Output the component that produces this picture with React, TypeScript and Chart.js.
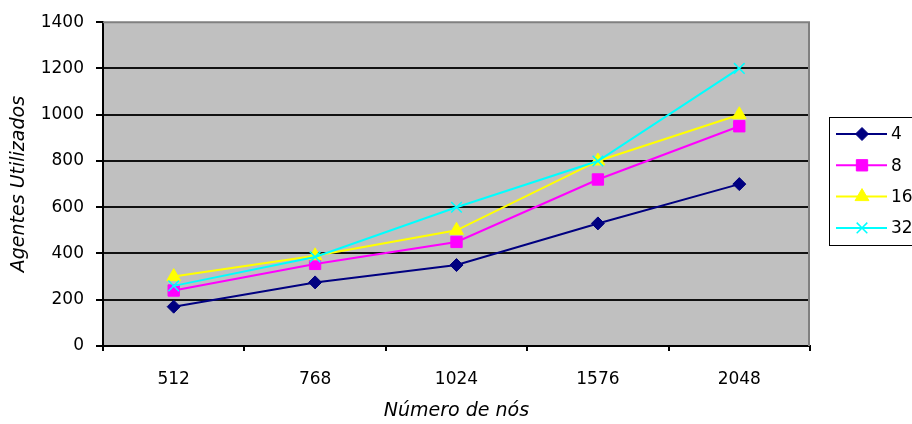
import React, { useEffect, useRef } from 'react';
import { Chart, registerables } from 'chart.js';
import { drawPoint } from 'chart.js/helpers';

Chart.register(...registerables);

const categories = ['512', '768', '1024', '1576', '2048'];
const seriesLabels = ['4', '8', '16', '32'];
const s4 = [170, 275, 350, 530, 700];
const s8 = [240, 355, 450, 720, 950];
const s16 = [300, 390, 500, 800, 1000];
const s32 = [260, 385, 600, 800, 1200];
const yMin = 0;
const yMax = 1400;
const yStep = 200;
const xTitle = 'Número de nós';
const yTitle = 'Agentes Utilizados';

const FONT = "'DejaVu Sans', 'Liberation Sans', Arial, sans-serif";

const plotPlugin = {
  id: 'plotBg',
  beforeDraw(chart: any) {
    const { ctx, chartArea: a } = chart;
    ctx.save();
    ctx.fillStyle = '#c0c0c0';
    ctx.fillRect(a.left, a.top, a.right - a.left, a.bottom - a.top);
    ctx.restore();
  },
  beforeDatasetsDraw(chart: any) {
    const { ctx, chartArea: a } = chart;
    ctx.save();
    ctx.strokeStyle = '#808080';
    ctx.lineWidth = 2;
    ctx.beginPath();
    ctx.moveTo(a.left, a.top);
    ctx.lineTo(a.right - 1, a.top);
    ctx.lineTo(a.right - 1, a.bottom);
    ctx.stroke();
    ctx.restore();
  },
};

const legendPlugin = {
  id: 'customLegend',
  afterDraw(chart: any) {
    const { ctx } = chart;
    ctx.save();
    ctx.fillStyle = '#ffffff';
    ctx.fillRect(829.5, 117.5, 120, 128);
    ctx.strokeStyle = '#000000';
    ctx.lineWidth = 1;
    ctx.strokeRect(829.5, 117.5, 120, 128);
    chart.data.datasets.forEach((ds: any, i: number) => {
      const y = 134 + i * 31.3;
      ctx.strokeStyle = ds.borderColor;
      ctx.lineWidth = 2;
      ctx.beginPath();
      ctx.moveTo(836, y);
      ctx.lineTo(887, y);
      ctx.stroke();
      ctx.fillStyle = ds.pointBackgroundColor;
      ctx.strokeStyle = ds.pointBorderColor;
      ctx.lineWidth = ds.pointBorderWidth;
      drawPoint(ctx, { pointStyle: ds.pointStyle, radius: ds.pointRadius, borderWidth: ds.pointBorderWidth, rotation: 0 } as any, 862, y);
      ctx.fillStyle = '#000000';
      ctx.font = `17px ${FONT}`;
      ctx.textBaseline = 'middle';
      ctx.textAlign = 'left';
      ctx.fillText(ds.label, 891, y + 1);
    });
    ctx.restore();
  },
};

export default function App() {
  const ref = useRef<HTMLCanvasElement>(null);
  useEffect(() => {
    if (!ref.current) return;
    const mk = (label: string, data: number[], color: string, style: string, radius: number, order: number, fill?: string, bw = 1) => ({
      label,
      data,
      borderColor: color,
      backgroundColor: color,
      borderWidth: 2,
      pointStyle: style,
      pointRadius: radius,
      pointBackgroundColor: fill ?? color,
      pointBorderColor: color,
      pointBorderWidth: bw,
      tension: 0,
      order,
    });
    const chart = new Chart(ref.current, {
      type: 'line',
      data: {
        labels: categories,
        datasets: [
          mk(seriesLabels[0], s4, '#000080', 'rectRot', 6.5, 4),
          mk(seriesLabels[1], s8, '#ff00ff', 'rect', 8, 3),
          mk(seriesLabels[2], s16, '#ffff00', 'triangle', 8, 2),
          mk(seriesLabels[3], s32, '#00ffff', 'crossRot', 7.5, 1, 'transparent', 1.5),
        ] as any,
      },
      options: {
        responsive: false,
        animation: false,
        layout: { padding: { left: 0, right: 102, top: 20, bottom: 0 } },
        plugins: {
          legend: { display: false },
          tooltip: { enabled: false },
        },
        scales: {
          x: {
            type: 'category',
            offset: true,
            afterFit: (axis: any) => { axis.height = 78; },
            grid: {
              display: true,
              offset: true,
              drawOnChartArea: false,
              drawTicks: true,
              tickLength: 5,
              tickColor: '#000',
              color: '#000',
              lineWidth: 2,
            },
            border: { display: true, color: '#000', width: 2 },
            ticks: {
              color: '#000',
              font: { family: FONT, size: 17 },
              padding: 18,
              maxRotation: 0,
            },
            title: {
              display: true,
              text: xTitle,
              color: '#000',
              font: { family: FONT, size: 19, style: 'italic' },
              padding: { top: 0, bottom: 2 },
            },
          },
          y: {
            min: yMin,
            max: yMax,
            afterFit: (axis: any) => { axis.width = 103; },
            ticks: {
              stepSize: yStep,
              color: '#000',
              font: { family: FONT, size: 17 },
              padding: 12,
              callback: (v: any) => String(v),
            },
            grid: {
              color: (c: any) => (c.tick && (c.tick.value === yMax || c.tick.value === yMin) ? 'rgba(0,0,0,0)' : '#111'),
              tickColor: '#000',
              lineWidth: 2,
              tickLength: 7,
            },
            border: { display: true, color: '#000', width: 2 },
            title: {
              display: true,
              text: yTitle,
              color: '#000',
              font: { family: FONT, size: 19, style: 'italic' },
              padding: { top: 8, bottom: 0 },
            },
          },
        },
      } as any,
      plugins: [plotPlugin, legendPlugin],
    });
    return () => chart.destroy();
  }, []);
  return (
    <div style={{ position: 'fixed', left: 0, top: 0, width: 912, height: 424, background: '#fff' }}>
      <canvas ref={ref} width={912} height={424} style={{ display: 'block', width: 912, height: 424 }} />
    </div>
  );
}
